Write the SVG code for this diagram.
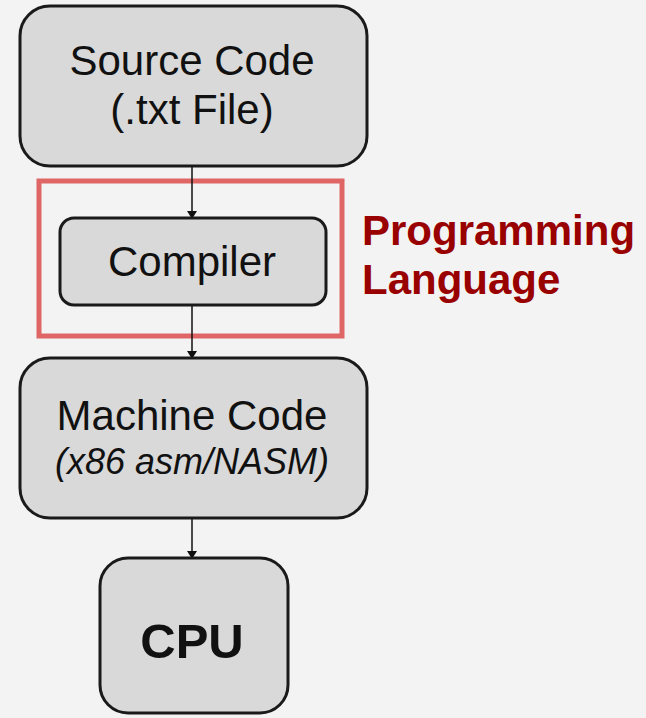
<svg xmlns="http://www.w3.org/2000/svg" width="646" height="718" viewBox="0 0 646 718">
<defs>
<marker id="ah" markerWidth="8" markerHeight="10" refX="7" refY="5" orient="auto" markerUnits="userSpaceOnUse">
<path d="M0,0 L8,5 L0,10 Z" fill="#111"/>
</marker>
<style>
.box{fill:#d9d9d9;stroke:#1a1a1a;stroke-width:3}
.t{font-family:"Liberation Sans",Arial,sans-serif;fill:#111;text-anchor:middle}
.c{stroke:#111;stroke-width:1.5;fill:none;marker-end:url(#ah)}
.red{font-family:"Liberation Sans",Arial,sans-serif;font-weight:bold;fill:#990000;font-size:42px}
</style>
</defs>
<rect width="646" height="718" fill="#f3f3f3"/>
<g id="group-programming-language">
<rect x="39" y="181" width="303" height="155" fill="none" stroke="#e06666" stroke-width="5"/>
<text class="red" x="362" y="245">Programming</text>
<text class="red" x="362" y="294">Language</text>
</g>
<g id="connectors">
<line class="c" x1="192" y1="166" x2="192" y2="218"/>
<line class="c" x1="192" y1="305" x2="192" y2="358"/>
<line class="c" x1="192" y1="518" x2="192" y2="558"/>
</g>
<g id="source-code">
<rect class="box" x="20" y="6" width="347" height="160" rx="30"/>
<text class="t" x="192" y="75" font-size="42">Source Code</text>
<text class="t" x="192" y="124" font-size="42">(.txt File)</text>
</g>
<g id="compiler">
<rect class="box" x="60" y="218" width="266" height="87" rx="14"/>
<text class="t" x="192" y="276" font-size="42">Compiler</text>
</g>
<g id="machine-code">
<rect class="box" x="20" y="358" width="347" height="160" rx="30"/>
<text class="t" x="192" y="430" font-size="42">Machine Code</text>
<text class="t" x="192" y="474" font-size="36" font-style="italic">(x86 asm/NASM)</text>
</g>
<g id="cpu">
<rect class="box" x="100" y="558" width="188" height="155" rx="28"/>
<text class="t" x="192" y="658" font-size="49" font-weight="bold">CPU</text>
</g>
</svg>
